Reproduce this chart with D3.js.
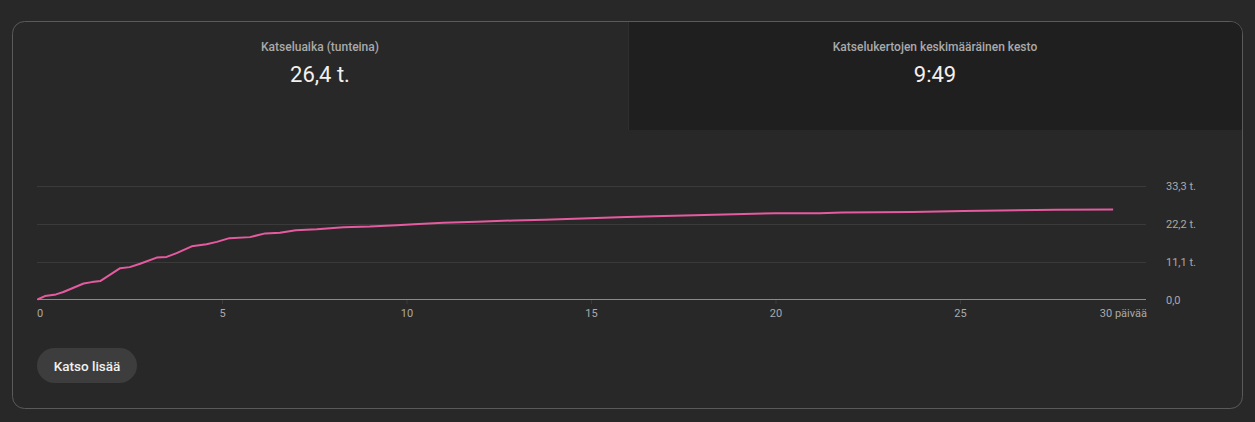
<!DOCTYPE html>
<html><head><meta charset="utf-8">
<script src="https://cdn.jsdelivr.net/npm/d3@7/dist/d3.min.js"></script>
<style>
html,body{margin:0;padding:0;background:#282828;}
svg{display:block;font-family:Roboto,"Noto Sans",sans-serif;}
</style></head>
<body>
<svg id="c" width="1255" height="422"></svg>
<script>
// Data (days, cumulative watch hours)
const days  = [0,0.2,0.5,0.7,1.25,1.47,1.7,2.24,2.5,2.78,3.23,3.5,3.77,4.18,4.58,4.86,5.2,5.76,6.17,6.57,7.0,7.57,8.29,9.0,9.73,10.2,11.0,11.9,12.9,13.75,14.75,15.74,16.7,17.8,18.86,20.0,21.2,21.8,23.7,25.1,27.6,29.15];
const hours = [0,1.0,1.5,2.2,4.7,5.1,5.4,9.2,9.5,10.5,12.3,12.5,13.6,15.6,16.2,16.9,18.0,18.3,19.4,19.6,20.3,20.6,21.2,21.4,21.8,22.1,22.5,22.8,23.2,23.4,23.8,24.1,24.4,24.7,25.0,25.3,25.3,25.5,25.7,26.0,26.3,26.4];
const xTicks = [0,5,10,15,20,25,30];
const xTickLabels = ["0","5","10","15","20","25","30 päivää"];
const yTicks = [0,11.1,22.2,33.3];
const yTickLabels = ["0,0","11,1 t.","22,2 t.","33,3 t."];
const metricLabels = ["Katseluaika (tunteina)","Katselukertojen keskimääräinen kesto"];
const metricValues = ["26,4 t.","9:49"];
const buttonLabel = "Katso lisää";

const svg = d3.select("#c");

// card
svg.append("rect").attr("x",12.5).attr("y",21.5).attr("width",1230).attr("height",387)
  .attr("rx",12).attr("fill","#282828").attr("stroke","#5a5a5a").attr("stroke-width",1);
const clip = svg.append("defs").append("clipPath").attr("id","cardclip");
clip.append("rect").attr("x",13).attr("y",22).attr("width",1229).attr("height",386).attr("rx",11.5);
svg.append("rect").attr("x",628).attr("y",22).attr("width",615).attr("height",108)
  .attr("fill","#1f1f1f").attr("clip-path","url(#cardclip)");
svg.append("line").attr("x1",628.5).attr("x2",628.5).attr("y1",22).attr("y2",130).attr("stroke","#2f2f2f");

const tabCenters = [320, 935];
metricLabels.forEach((t,i)=>{
  svg.append("text").attr("x",tabCenters[i]).attr("y",51).attr("text-anchor","middle")
    .attr("fill","#aaaaaa").attr("font-size",12).attr("font-weight",500).text(t);
  svg.append("text").attr("x",tabCenters[i]).attr("y",82).attr("text-anchor","middle")
    .attr("fill","#f1f1f1").attr("font-size",22).text(metricValues[i]);
});

// chart
const x = d3.scaleLinear().domain([0,30]).range([37.5,1144.5]);
const y = d3.scaleLinear().domain([0,33.3]).range([299.5,186]);

const g = svg.append("g");
g.selectAll(".grid").data(yTicks.slice(1)).join("line")
  .attr("x1",37).attr("x2",1146).attr("y1",d=>Math.round(y(d))+0.5).attr("y2",d=>Math.round(y(d))+0.5)
  .attr("stroke","#3a3a3a").attr("stroke-width",1);
g.append("line").attr("x1",37).attr("x2",1146).attr("y1",299.5).attr("y2",299.5)
  .attr("stroke","#8a8a8a").attr("stroke-width",1);

// x axis
const xAxis = d3.axisBottom(x).tickValues(xTicks).tickSize(4).tickPadding(5)
  .tickFormat((d,i)=>xTickLabels[i]);
const xa = svg.append("g").attr("transform","translate(0,300)").call(xAxis);
xa.select(".domain").remove();
xa.selectAll(".tick line").attr("stroke","#3a3a3a");
xa.selectAll(".tick text").attr("fill","#aaaaaa").attr("font-size",11)
  .attr("font-family","Roboto,sans-serif");
xa.selectAll(".tick").filter(d=>d===0).select("text").attr("text-anchor","start").attr("dx",-1);
xa.selectAll(".tick").filter(d=>d===30).select("text").attr("text-anchor","end").attr("dx",2);
xa.selectAll(".tick").filter(d=>d===0||d===30).select("line").remove();

// y axis on right
const yAxis = d3.axisRight(y).tickValues(yTicks).tickSize(0).tickPadding(0)
  .tickFormat((d,i)=>yTickLabels[i]);
const ya = svg.append("g").attr("transform","translate(1166,0)").call(yAxis);
ya.select(".domain").remove();
ya.selectAll(".tick text").attr("fill","#aaaaaa").attr("font-size",11)
  .attr("font-family","Roboto,sans-serif");

// line
const pts = days.map((d,i)=>[d,hours[i]]);
const line = d3.line().x(d=>x(d[0])).y(d=>y(d[1])).curve(d3.curveLinear);
svg.append("path").datum(pts).attr("d",line).attr("fill","none")
  .attr("stroke","#e65a9f").attr("stroke-width",2).attr("stroke-linejoin","round");

// button
svg.append("rect").attr("x",37).attr("y",348).attr("width",100).attr("height",35).attr("rx",17.5)
  .attr("fill","#3d3d3d");
svg.append("text").attr("x",87).attr("y",370.5).attr("text-anchor","middle")
  .attr("fill","#f1f1f1").attr("font-size",13.5).attr("font-weight",500).text(buttonLabel);
</script>
</body></html>
